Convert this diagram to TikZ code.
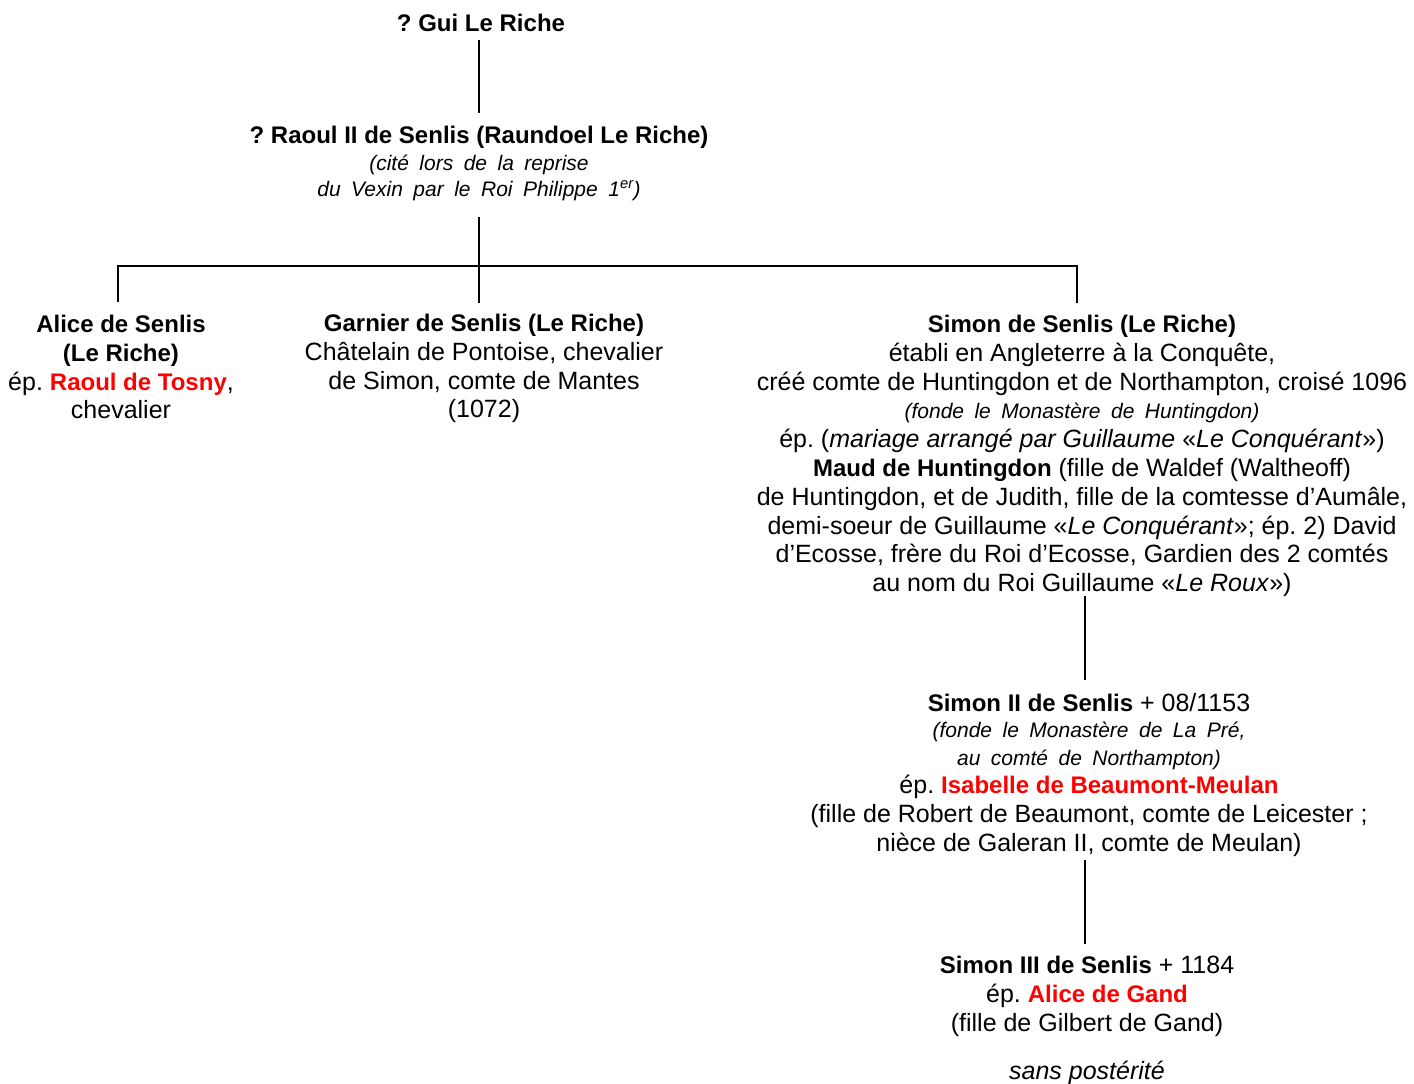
\documentclass[tikz,border=0pt]{standalone}
\usepackage{fontspec}
\setmainfont{Liberation Sans}
\newcommand\smit[1]{{\fontsize{21}{29}\selectfont\itshape\spaceskip=0.5em plus 0.1em #1}}
\newcommand\bo[1]{{\fontsize{24}{28.8}\selectfont\bfseries #1}}
\newcommand\rd[1]{\textcolor{red}{\bo{#1}}}
\begin{document}
\begin{tikzpicture}[x=1pt,y=-1pt,
  person/.style={align=center,inner sep=0pt,anchor=north,
    font={\fontsize{25}{28.8}\selectfont\frenchspacing}},
  link/.style={line width=2.6pt}]
\useasboundingbox (0,0) rectangle (1414,1084);
\node[person] (gui) at (481,14) {\bo{? Gui Le Riche}};
\node[person] (raoul) at (479,126) {\bo{? Raoul II de Senlis (Raundoel Le Riche)}\\[-2pt]
  \smit{(cité lors de la reprise}\\[-3pt]
  \smit{du Vexin par le Roi Philippe 1\textsuperscript{er})}};
\node[person] (alice) at (121,315) {\bo{Alice de Senlis}\\ \bo{(Le Riche)}\\
  ép. \rd{Raoul de Tosny},\\ chevalier};
\node[person] (garnier) at (484,314) {\bo{Garnier de Senlis (Le Riche)}\\
  Châtelain de Pontoise, chevalier\\ de Simon, comte de Mantes\\ (1072)};
\node[person] (simon) at (1082,315) {\bo{Simon de Senlis (Le Riche)}\\
  établi en Angleterre à la Conquête,\\
  créé comte de Huntingdon et de Northampton, croisé 1096\\
  \smit{(fonde le Monastère de Huntingdon)}\\
  ép. (\textit{mariage arrangé par Guillaume} «\textit{Le Conquérant}»)\\
  \bo{Maud de Huntingdon} (fille de Waldef (Waltheoff)\\
  de Huntingdon, et de Judith, fille de la comtesse d’Aumâle,\\
  demi-soeur de Guillaume «\textit{Le Conquérant}»; ép. 2) David\\
  d’Ecosse, frère du Roi d’Ecosse, Gardien des 2 comtés\\
  au nom du Roi Guillaume «\textit{Le Roux}»)};
\node[person] (simon2) at (1089,693) {\bo{Simon II de Senlis} + 08/1153\\[-3pt]
  \smit{(fonde le Monastère de La Pré,}\\
  \smit{au comté de Northampton)}\\[-1pt]
  ép. \rd{Isabelle de Beaumont-Meulan}\\
  (fille de Robert de Beaumont, comte de Leicester ;\\
  nièce de Galeran II, comte de Meulan)};
\node[person] (simon3) at (1087,956) {\bo{Simon III de Senlis} + 1184\\
  ép. \rd{Alice de Gand}\\
  (fille de Gilbert de Gand)\\[19pt]
  \textit{sans postérité}};
\coordinate (trunk) at (479,0);
\coordinate (barL) at (118,266);
\coordinate (barR) at (1077,266);
\coordinate (l2) at (1085,0);
\draw[link] (trunk |- 0,40) -- (trunk |- 0,113);
\draw[link] (trunk |- 0,217) -- (trunk |- 0,303);
\draw[link] (barL |- 0,302) -- (barL) -- (barR) -- (barR |- 0,303);
\draw[link] (l2 |- 0,596) -- (l2 |- 0,680);
\draw[link] (l2 |- 0,860) -- (l2 |- 0,944);
\end{tikzpicture}
\end{document}
